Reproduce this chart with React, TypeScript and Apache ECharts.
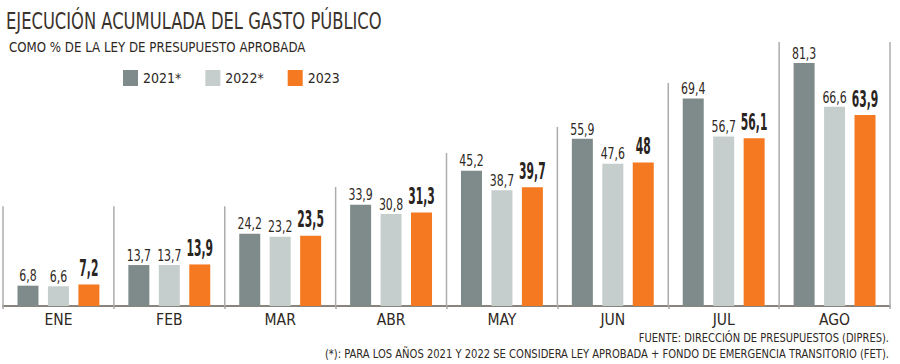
import React, { useEffect, useRef } from "react";
import * as echarts from "echarts";

const categories = ["ENE", "FEB", "MAR", "ABR", "MAY", "JUN", "JUL", "AGO"];
const values2021 = [6.8, 13.7, 24.2, 33.9, 45.2, 55.9, 69.4, 81.3];
const values2022 = [6.6, 13.7, 23.2, 30.8, 38.7, 47.6, 56.7, 66.6];
const values2023 = [7.2, 13.9, 23.5, 31.3, 39.7, 48, 56.1, 63.9];
const seriesNames = ["2021*", "2022*", "2023"];
// decorative separator heights (data units) at each category's left edge, last one = right edge of AGO
const separatorTops = [33.4, 33.4, 33.4, 39.8, 51.2, 59.9, 74.6, 88.3, 88.3];

const FONT = '"DejaVu Sans Condensed", "DejaVu Sans", sans-serif';
const TEXT = "#2e2823";
const C2021 = "#7f8b8a";
const C2022 = "#c5cdcd";
const C2023 = "#f47920";

const BAR_W = 21;
const BAR_GAP = 0.45;

const fmt = (v: number) => String(v).replace(".", ",");

function labelSeries(name: string, values: number[], slot: number, bold: boolean) {
  return {
    type: "custom",
    name,
    silent: true,
    z: 5,
    data: values.map((v, i) => [i, v]),
    encode: { x: 0, y: 1 },
    renderItem: (params: any, api: any) => {
      const p = api.coord([api.value(0), api.value(1)]);
      const off = slot * BAR_W * (1 + BAR_GAP);
      return {
        type: "text",
        x: p[0] + off,
        y: p[1] - (bold ? 5 : 2),
        scaleX: bold ? 0.52 : 0.76,
        style: {
          text: fmt(api.value(1)),
          fontFamily: FONT,
          fontSize: bold ? 23 : 16,
          fontWeight: bold ? "bold" : "normal",
          fill: bold ? "#2a241f" : TEXT,
          textAlign: "center",
          textVerticalAlign: "bottom",
        },
      };
    },
  };
}

export default function App() {
  const ref = useRef<HTMLDivElement>(null);
  useEffect(() => {
    if (!ref.current) return;
    const chart = echarts.init(ref.current, undefined, { renderer: "svg" });
    const sepData = separatorTops.map((t, i) => [Math.min(i, categories.length - 1), t, i < categories.length ? -1 : 1]);
    const barBase = { type: "bar", barWidth: BAR_W, barGap: BAR_GAP * 100 + "%", z: 2 };
    chart.setOption({
      animation: false,
      backgroundColor: "#ffffff",
      graphic: [
        {
          type: "text",
          x: 6,
          y: 10,
          scaleX: 0.79,
          style: {
            text: "EJECUCIÓN ACUMULADA DEL GASTO PÚBLICO",
            fontFamily: FONT,
            fontSize: 23,
            fill: "#3a332c",
            textAlign: "left",
            textVerticalAlign: "top",
          },
        },
        {
          type: "text",
          x: 9,
          y: 40,
          scaleX: 0.94,
          style: {
            text: "COMO % DE LA LEY DE PRESUPUESTO APROBADA",
            fontFamily: FONT,
            fontSize: 14,
            fill: TEXT,
            textAlign: "left",
            textVerticalAlign: "top",
          },
        },
        {
          type: "text",
          x: 889,
          y: 332,
          scaleX: 0.92,
          style: {
            text: "FUENTE: DIRECCIÓN DE PRESUPUESTOS (DIPRES).",
            fontFamily: FONT,
            fontSize: 12,
            fill: TEXT,
            textAlign: "right",
            textVerticalAlign: "top",
          },
        },
        {
          type: "text",
          x: 889,
          y: 348,
          scaleX: 0.925,
          style: {
            text: "(*): PARA LOS AÑOS 2021 Y 2022 SE CONSIDERA LEY APROBADA + FONDO DE EMERGENCIA TRANSITORIO (FET).",
            fontFamily: FONT,
            fontSize: 12,
            fill: TEXT,
            textAlign: "right",
            textVerticalAlign: "top",
          },
        },
      ],
      legend: {
        left: 123,
        top: 70,
        padding: 0,
        icon: "rect",
        itemWidth: 15,
        itemHeight: 16,
        itemGap: 24,
        data: seriesNames,
        textStyle: { fontFamily: FONT, fontSize: 14, color: TEXT },
      },
      grid: { left: 3, right: 10, top: 7, bottom: 58, containLabel: false },
      xAxis: {
        type: "category",
        data: categories,
        axisLine: { lineStyle: { color: "#8a857c", width: 2 } },
        axisTick: { show: true, length: 3, lineStyle: { color: "#a8a8a8", width: 1.5 } },
        axisLabel: { fontFamily: FONT, fontSize: 15.5, color: TEXT, margin: 6 },
      },
      yAxis: { type: "value", min: 0, max: 100, show: false, splitLine: { show: false } },
      series: [
        {
          type: "custom",
          name: "separators",
          silent: true,
          z: 1,
          data: sepData,
          encode: { x: 0, y: 1 },
          renderItem: (params: any, api: any) => {
            const cat = api.value(0);
            const side = api.value(2);
            const bw = api.size([1, 0])[0];
            const p0 = api.coord([cat, 0]);
            const p1 = api.coord([cat, api.value(1)]);
            const x = p0[0] + (side * bw) / 2;
            return {
              type: "line",
              shape: { x1: x, y1: p0[1], x2: x, y2: p1[1] },
              style: { stroke: "#acacac", lineWidth: 1.5 },
            };
          },
        },
        { ...barBase, name: seriesNames[0], data: values2021, itemStyle: { color: C2021 } },
        { ...barBase, name: seriesNames[1], data: values2022, itemStyle: { color: C2022 } },
        { ...barBase, name: seriesNames[2], data: values2023, itemStyle: { color: C2023 } },
        labelSeries("lbl2021", values2021, -1, false),
        labelSeries("lbl2022", values2022, 0, false),
        labelSeries("lbl2023", values2023, 1, true),
      ],
    });
    return () => chart.dispose();
  }, []);
  return <div ref={ref} style={{ position: "fixed", left: 0, top: 0, width: 900, height: 364 }} />;
}
